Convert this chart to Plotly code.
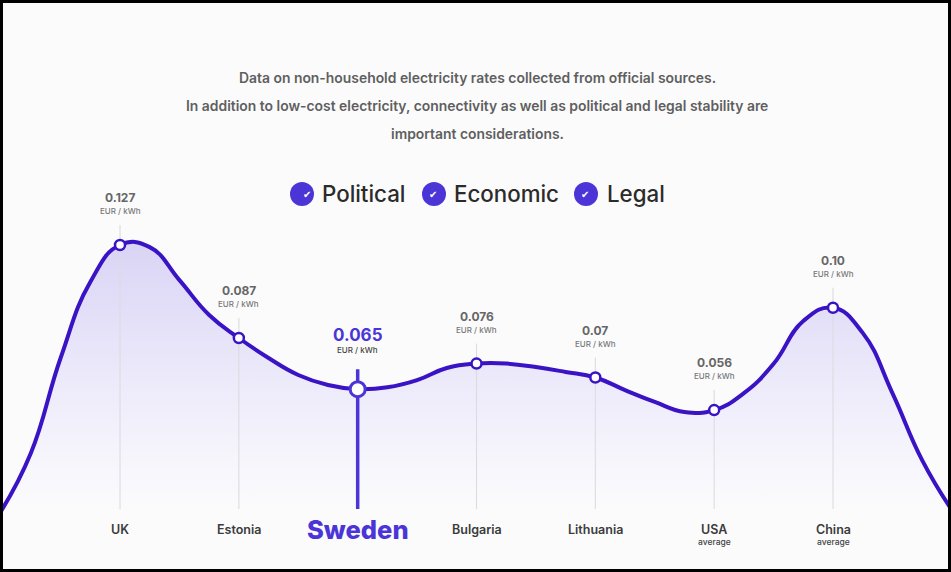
import plotly.graph_objects as go

# Countries and rates
countries = ['UK', 'Estonia', 'Sweden', 'Bulgaria', 'Lithuania', 'USA', 'China']
rates = [0.127, 0.087, 0.065, 0.076, 0.07, 0.056, 0.10]
rate_labels = ['0.127', '0.087', '0.065', '0.076', '0.07', '0.056', '0.10']
sub_labels = ['', '', '', '', '', 'average', 'average']
filters = ['Political', 'Economic', 'Legal']
intro_lines = [
    'Data on non-household electricity rates collected from official sources.',
    'In addition to low-cost electricity, connectivity as well as political and legal stability are',
    'important considerations.',
]

# The smooth outline, every quarter step (x = country index, y = EUR/kWh)
curve_x = [-1, -0.75, -0.5, -0.25, 0, 0.25, 0.5, 0.75, 1, 1.25, 1.5, 1.75, 2, 2.25, 2.5, 2.75, 3,
           3.25, 3.5, 3.75, 4, 4.25, 4.5, 4.75, 5, 5.25, 5.5, 5.75, 6, 6.25, 6.5, 6.75, 7]
curve_y = [0.0126, 0.0375, 0.0784, 0.1111, 0.127, 0.1261, 0.1119, 0.0969, 0.087, 0.0784, 0.0711,
           0.0668, 0.065, 0.0658, 0.0689, 0.0741, 0.076, 0.076, 0.0745, 0.0724, 0.07, 0.0646,
           0.0595, 0.0552, 0.056, 0.0633, 0.0759, 0.0943, 0.10, 0.0892, 0.0633, 0.0345, 0.013]

baseline = 0.0134
stem_above = 0.0086
highlight = 'Sweden'

PURPLE = '#4b35d6'
LINE = '#3a14c4'
BG = '#fbfbfc'
WIDTH, HEIGHT = 951, 572

fig = go.Figure()

# Filled area under the curve
fig.add_trace(go.Scatter(
    x=curve_x, y=curve_y, mode='lines', fill='toself',
    line=dict(color='rgba(0,0,0,0)', width=0, shape='spline', smoothing=1.3),
    fillgradient=dict(type='vertical',
                      colorscale=[[0, 'rgba(251,251,252,1)'], [0.2, '#f6f5fc'], [0.5, '#ece9fa'], [1, '#dad4f5']]),
    hoverinfo='skip',
))

# Grey stems for every country except the highlighted one
stem_x, stem_y = [], []
for i, (name, r) in enumerate(zip(countries, rates)):
    if name != highlight:
        stem_x += [i, i, None]
        stem_y += [baseline, r + stem_above, None]
fig.add_trace(go.Scatter(x=stem_x, y=stem_y, mode='lines',
                         line=dict(color='#dcdce0', width=1.1), hoverinfo='skip'))

# Highlighted stem
hi = countries.index(highlight)
fig.add_trace(go.Scatter(x=[hi, hi], y=[baseline, rates[hi] + stem_above], mode='lines',
                         line=dict(color=PURPLE, width=3.5), hoverinfo='skip'))

# Curve line
fig.add_trace(go.Scatter(x=curve_x, y=curve_y, mode='lines',
                         line=dict(color=LINE, width=4, shape='spline', smoothing=1.3),
                         hoverinfo='skip'))

# Points
fig.add_trace(go.Scatter(
    x=list(range(len(countries))), y=rates, mode='markers',
    marker=dict(color='white', opacity=1,
                size=[15 if c == highlight else 10 for c in countries],
                line=dict(color=[PURPLE if c == highlight else LINE for c in countries],
                          width=[3 if c == highlight else 2.5 for c in countries])),
    hoverinfo='skip',
))

FONT = 'Inter, "Open Sans", sans-serif'

# Value labels above the points
for i, c in enumerate(countries):
    big = c == highlight
    fig.add_annotation(x=i, y=rates[i], xref='x', yref='y', text=rate_labels[i], showarrow=False,
                       yshift=54 if big else 47.5,
                       font=dict(family=FONT, size=17 if big else 12, weight=700,
                                 color=PURPLE if big else '#666666'))
    fig.add_annotation(x=i, y=rates[i], xref='x', yref='y', text='EUR / kWh', showarrow=False,
                       yshift=39 if big else 34,
                       font=dict(family=FONT, size=8, weight=500,
                                 color='#444444' if big else '#777777'))
    # Country names along the bottom
    fig.add_annotation(x=i, y=1 - 529.5 / HEIGHT, xref='x', yref='paper', yanchor='middle', text=c,
                       showarrow=False,
                       font=dict(family=FONT, size=25.5 if big else 12.5, weight=800 if big else 600,
                                 color=PURPLE if big else '#3c3c3c'))
    if sub_labels[i]:
        fig.add_annotation(x=i, y=1 - 542 / HEIGHT, xref='x', yref='paper', yanchor='middle',
                           text=sub_labels[i], showarrow=False,
                           font=dict(family=FONT, size=8.5, weight=500, color='#444444'))

# Intro text
for line, ypx in zip(intro_lines, [78, 106, 134]):
    fig.add_annotation(x=477 / WIDTH, y=1 - ypx / HEIGHT, xref='paper', yref='paper', yanchor='middle',
                       text=line, showarrow=False,
                       font=dict(family=FONT, size=13.9, weight=600, color='#5f5f5f'))

# Filter badges
shapes = []
for name, cx, tx in zip(filters, [302, 434, 586], [320, 452, 605]):
    shapes.append(dict(type='circle', xref='paper', yref='paper', layer='above',
                       x0=(cx - 12) / WIDTH, x1=(cx + 12) / WIDTH,
                       y0=1 - (194 + 12) / HEIGHT, y1=1 - (194 - 12) / HEIGHT,
                       fillcolor=PURPLE, line=dict(width=0)))
    fig.add_annotation(x=cx / WIDTH, y=1 - 194 / HEIGHT, xref='paper', yref='paper', yanchor='middle',
                       text='✔', showarrow=False, xshift=-1,
                       font=dict(family='DejaVu Sans', size=10, color='white'))
    fig.add_annotation(x=tx / WIDTH, y=1 - 193.5 / HEIGHT, xref='paper', yref='paper', yanchor='middle',
                       text=name, showarrow=False, xanchor='left',
                       font=dict(family=FONT, size=22.3, weight=500, color='#2b2b2b'))

# Black screenshot frame
shapes.append(dict(type='rect', xref='paper', yref='paper', x0=0, x1=1, y0=0, y1=1,
                   layer='above', line=dict(color='black', width=6)))

fig.update_layout(
    width=WIDTH, height=HEIGHT,
    margin=dict(l=0, r=0, t=0, b=0),
    paper_bgcolor=BG, plot_bgcolor=BG,
    showlegend=False,
    hovermode=False,
    shapes=shapes,
    xaxis=dict(range=[-1.01, 6.993], visible=False, fixedrange=True),
    yaxis=dict(range=[-0.01365, 0.23238], visible=False, fixedrange=True),
)

fig.write_html("out.html", config={'displayModeBar': False},
               post_script="document.body.style.margin='0';")
